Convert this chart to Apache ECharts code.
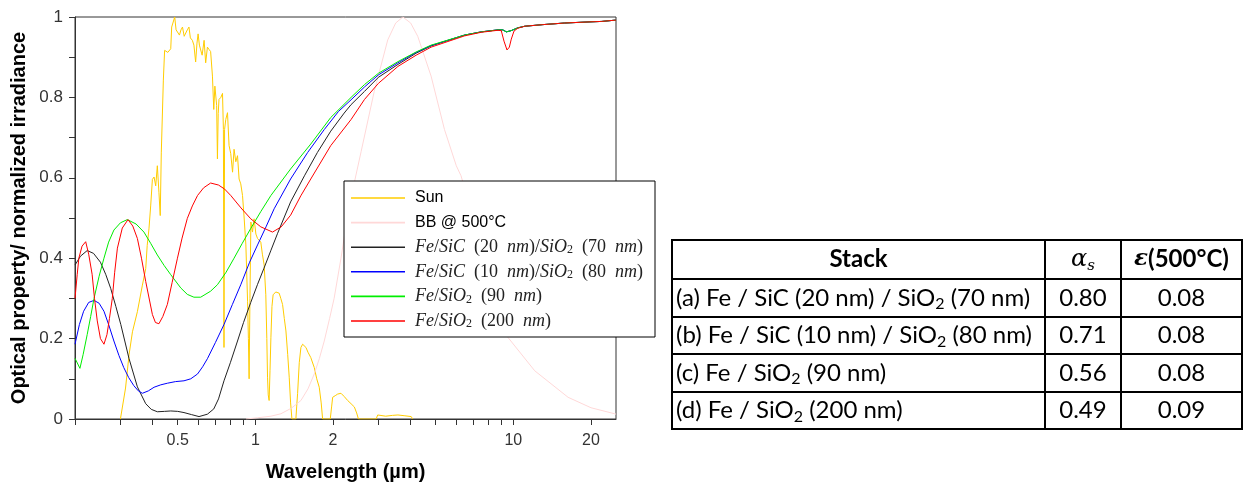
<!DOCTYPE html>
<html><head><meta charset="utf-8">
<script src="https://cdn.jsdelivr.net/npm/echarts@6/dist/echarts.min.js"></script>
<style>html,body{margin:0;padding:0;background:#fff}#c{width:1243px;height:487px}</style>
</head><body><div id="c"></div>
<script>
// ---------------- data ----------------
const seriesNames = ['Sun', 'BB @ 500°C', 'Fe/SiC (20 nm)/SiO₂ (70 nm)', 'Fe/SiC (10 nm)/SiO₂ (80 nm)', 'Fe/SiO₂ (90 nm)', 'Fe/SiO₂ (200 nm)'];

const sunData = [[0.300,0],[0.305,0.003],[0.314,0.077],[0.324,0.16],[0.334,0.217],[0.349,0.267],[0.365,0.333],[0.376,0.374],[0.381,0.432],[0.387,0.473],[0.393,0.53],[0.399,0.596],[0.405,0.602],[0.411,0.58],[0.417,0.63],[0.423,0.564],[0.428,0.506],[0.432,0.662],[0.440,0.843],[0.445,0.917],[0.458,0.912],[0.470,0.921],[0.474,0.975],[0.487,1.0],[0.493,0.968],[0.499,0.967],[0.508,0.955],[0.515,0.968],[0.522,0.975],[0.530,0.952],[0.537,0.954],[0.545,0.968],[0.553,0.975],[0.560,0.948],[0.570,0.942],[0.578,0.93],[0.587,0.888],[0.594,0.935],[0.600,0.958],[0.607,0.93],[0.614,0.933],[0.622,0.905],[0.633,0.942],[0.642,0.886],[0.652,0.925],[0.662,0.919],[0.671,0.914],[0.682,0.853],[0.690,0.77],[0.697,0.828],[0.703,0.828],[0.708,0.78],[0.713,0.647],[0.718,0.76],[0.723,0.795],[0.735,0.80],[0.746,0.81],[0.752,0.72],[0.756,0.178],[0.760,0.72],[0.768,0.745],[0.780,0.762],[0.791,0.68],[0.803,0.66],[0.816,0.614],[0.827,0.671],[0.840,0.64],[0.853,0.655],[0.865,0.597],[0.878,0.585],[0.892,0.556],[0.905,0.50],[0.919,0.433],[0.933,0.293],[0.940,0.20],[0.946,0.10],[0.953,0.30],[0.961,0.49],[0.975,0.465],[0.989,0.498],[1.005,0.46],[1.020,0.449],[1.035,0.452],[1.050,0.44],[1.065,0.41],[1.082,0.383],[1.098,0.309],[1.108,0.20],[1.115,0.104],[1.122,0.06],[1.131,0.046],[1.140,0.12],[1.149,0.202],[1.160,0.28],[1.172,0.309],[1.200,0.316],[1.237,0.313],[1.255,0.30],[1.275,0.285],[1.295,0.25],[1.314,0.219],[1.335,0.16],[1.353,0.104],[1.370,0.04],[1.386,0],[1.436,0],[1.446,0.03],[1.458,0.063],[1.480,0.14],[1.502,0.178],[1.525,0.186],[1.545,0.183],[1.571,0.178],[1.600,0.166],[1.640,0.153],[1.692,0.128],[1.730,0.10],[1.769,0.079],[1.800,0.04],[1.823,0],[1.952,0],[1.975,0.03],[1.994,0.054],[2.040,0.058],[2.085,0.062],[2.148,0.064],[2.210,0.056],[2.280,0.046],[2.350,0.038],[2.420,0.03],[2.470,0.015],[2.510,0],[2.940,0],[2.980,0.01],[3.200,0.007],[3.400,0.009],[3.570,0.01],[3.800,0.008],[4.020,0.006],[4.070,0]];

const bbData = [[0.92,0],[1.02,0.003],[1.15,0.007],[1.256,0.013],[1.38,0.027],[1.502,0.046],[1.60,0.075],[1.692,0.112],[1.77,0.15],[1.85,0.194],[1.94,0.25],[2.02,0.30],[2.148,0.40],[2.246,0.48],[2.385,0.57],[2.57,0.665],[2.89,0.815],[3.26,0.943],[3.50,0.985],[3.73,1.0],[4.0,0.985],[4.26,0.952],[4.8,0.853],[5.41,0.72],[6.01,0.63],[6.27,0.605],[9.53,0.203],[12.1,0.12],[16.3,0.054],[20,0.028],[24.7,0.013],[25,0.012]];

const stackA = [[0.2,0.383],[0.21,0.405],[0.223,0.419],[0.236,0.412],[0.251,0.39],[0.263,0.36],[0.275,0.325],[0.288,0.28],[0.301,0.235],[0.324,0.15],[0.349,0.08],[0.376,0.038],[0.395,0.024],[0.417,0.018],[0.445,0.019],[0.47,0.02],[0.50,0.019],[0.529,0.016],[0.565,0.011],[0.605,0.006],[0.652,0.012],[0.69,0.025],[0.72,0.05],[0.756,0.095],[0.80,0.14],[0.853,0.194],[0.90,0.24],[0.96,0.29],[1.02,0.335],[1.08,0.375],[1.15,0.42],[1.22,0.462],[1.37,0.54],[1.55,0.605],[1.74,0.663],[1.96,0.716],[2.21,0.761],[2.35,0.782],[2.65,0.815],[3.0,0.85],[3.57,0.882],[4.2,0.91],[4.8,0.928],[6.47,0.955],[7.51,0.963],[8.72,0.968],[9.1,0.968],[9.4,0.963],[9.8,0.966],[10.4,0.973],[11.07,0.977],[13,0.981],[15.8,0.985],[20,0.988],[22,0.989],[24.7,0.992],[25,0.992]];

const stackB = [[0.2,0.186],[0.208,0.235],[0.216,0.268],[0.226,0.29],[0.237,0.295],[0.248,0.288],[0.259,0.268],[0.27,0.235],[0.283,0.194],[0.296,0.158],[0.309,0.128],[0.323,0.103],[0.338,0.083],[0.352,0.07],[0.365,0.064],[0.385,0.07],[0.405,0.079],[0.43,0.085],[0.456,0.089],[0.49,0.093],[0.529,0.095],[0.562,0.10],[0.597,0.112],[0.625,0.13],[0.652,0.15],[0.70,0.19],[0.756,0.235],[0.815,0.285],[0.878,0.334],[0.95,0.39],[1.02,0.433],[1.10,0.478],[1.183,0.523],[1.37,0.597],[1.595,0.663],[1.85,0.72],[2.1,0.765],[2.35,0.794],[2.65,0.826],[3.0,0.856],[3.57,0.886],[4.2,0.912],[4.8,0.929],[6.47,0.955],[7.51,0.963],[8.72,0.968],[9.1,0.968],[9.4,0.963],[9.8,0.966],[10.4,0.973],[11.07,0.977],[13,0.981],[15.8,0.985],[20,0.988],[22,0.989],[24.7,0.992],[25,0.992]];

const stackC = [[0.2,0.151],[0.209,0.126],[0.215,0.16],[0.223,0.21],[0.23,0.255],[0.237,0.30],[0.248,0.355],[0.259,0.40],[0.27,0.44],[0.283,0.47],[0.30,0.488],[0.319,0.496],[0.345,0.485],[0.37,0.465],[0.393,0.437],[0.417,0.408],[0.443,0.382],[0.47,0.359],[0.514,0.326],[0.545,0.31],[0.578,0.303],[0.614,0.303],[0.671,0.318],[0.713,0.334],[0.77,0.365],[0.827,0.40],[0.89,0.437],[0.96,0.474],[1.05,0.516],[1.149,0.556],[1.37,0.622],[1.64,0.684],[1.96,0.75],[2.35,0.80],[2.65,0.832],[3.0,0.86],[3.57,0.889],[4.2,0.913],[4.8,0.93],[6.47,0.955],[7.51,0.963],[8.72,0.968],[9.1,0.968],[9.4,0.963],[9.8,0.966],[10.4,0.973],[11.07,0.977],[13,0.981],[15.8,0.985],[20,0.988],[22,0.989],[24.7,0.992],[25,0.992]];

const stackD = [[0.2,0.30],[0.204,0.36],[0.207,0.40],[0.213,0.43],[0.22,0.441],[0.226,0.41],[0.233,0.36],[0.238,0.30],[0.244,0.244],[0.251,0.20],[0.259,0.186],[0.266,0.21],[0.272,0.25],[0.279,0.30],[0.285,0.365],[0.292,0.425],[0.305,0.475],[0.321,0.496],[0.335,0.48],[0.349,0.449],[0.362,0.40],[0.376,0.342],[0.399,0.26],[0.41,0.24],[0.423,0.237],[0.438,0.255],[0.456,0.285],[0.476,0.34],[0.499,0.40],[0.52,0.45],[0.545,0.499],[0.57,0.53],[0.597,0.556],[0.63,0.575],[0.671,0.587],[0.72,0.582],[0.76,0.572],[0.803,0.556],[0.88,0.525],[0.96,0.498],[1.05,0.478],[1.166,0.465],[1.26,0.478],[1.37,0.507],[1.5,0.555],[1.64,0.597],[1.96,0.68],[2.35,0.745],[2.65,0.795],[3.0,0.835],[3.57,0.877],[4.2,0.905],[4.8,0.925],[6.47,0.953],[7.51,0.962],[8.72,0.967],[8.98,0.966],[9.2,0.94],[9.45,0.918],[9.65,0.925],[9.82,0.945],[10.06,0.965],[10.4,0.972],[11.07,0.977],[13,0.981],[15.8,0.985],[20,0.988],[22,0.989],[24.7,0.992],[25,0.992]];

const xTickValues = [0.2,0.3,0.4,0.5,0.6,0.7,0.8,0.9,1,2,3,4,5,6,7,8,9,10,20];
const xLabelValues = [0.5,1,2,10,20];

const tableHeader = ['Stack', 'αs', 'ε(500°C)'];
const tableStacks = ['(a) Fe / SiC (20 nm) / SiO₂ (70 nm)', '(b) Fe / SiC (10 nm) / SiO₂ (80 nm)', '(c) Fe / SiO₂ (90 nm)', '(d) Fe / SiO₂ (200 nm)'];
const tableAlpha = ['0.80', '0.71', '0.56', '0.49'];
const tableEps = ['0.08', '0.08', '0.08', '0.09'];

// ---------------- styling / layout ----------------
const colors = ['#ffcc00', '#ffd8d8', '#222222', '#0000ff', '#00ee00', '#ff0000'];
const seriesData = [sunData, bbData, stackA, stackB, stackC, stackD];

function mathLabel(name) {
  let out = '';
  const re = /(SiO)₂|([A-Za-z]+)|([^A-Za-z]+)/g;
  let m;
  while ((m = re.exec(name))) {
    if (m[1]) out += '{i|' + m[1] + '}{s|2}';
    else if (m[2]) out += '{i|' + m[2] + '}';
    else out += '{n|' + m[3].replace(/ /g, '  ') + '}';
  }
  return out;
}

const cols = [672, 1045, 1121, 1242];
const rows = [240, 279, 317, 354, 392, 429];
const graphics = [];
rows.forEach(y => graphics.push({type: 'line', z: 10, shape: {x1: cols[0] - 1, y1: y, x2: cols[3] + 1, y2: y}, style: {stroke: '#000', lineWidth: 2}}));
cols.forEach(x => graphics.push({type: 'line', z: 10, shape: {x1: x, y1: rows[0] - 1, x2: x, y2: rows[rows.length - 1] + 1}, style: {stroke: '#000', lineWidth: 2}}));

const FS = 24;
const tableRich = {
  s: {fontFamily: 'Lato', fontSize: 16, lineHeight: 17, verticalAlign: 'bottom', fill: '#000'},
  b: {fontFamily: 'Lato', fontSize: FS, fontWeight: 'bold', lineHeight: 28, fill: '#000'},
  ga: {fontFamily: 'DejaVu Serif', fontStyle: 'italic', fontSize: 24, lineHeight: 28, fill: '#000'},
  gs: {fontFamily: 'DejaVu Serif', fontStyle: 'italic', fontSize: 15, lineHeight: 17, verticalAlign: 'bottom', fill: '#000'},
  ge: {fontFamily: 'DejaVu Serif', fontStyle: 'italic', fontWeight: 'bold', fontSize: 23, lineHeight: 28, fill: '#000'}
};
function cell(text, x, y, align) {
  return {type: 'text', z: 10, x: x, y: y, style: {text: text, align: align, verticalAlign: 'middle', textAlign: align, textVerticalAlign: 'middle', fontFamily: 'Lato', fontSize: FS, lineHeight: 28, fill: '#000', rich: tableRich}};
}
const colCenter = i => (cols[i] + cols[i + 1]) / 2;
const rowCenter = i => (rows[i] + rows[i + 1]) / 2;
graphics.push(cell('{b|' + tableHeader[0] + '}', colCenter(0), rowCenter(0), 'center'));
graphics.push(cell('{ga|' + tableHeader[1].charAt(0) + '}{gs|' + tableHeader[1].slice(1) + '}', colCenter(1), rowCenter(0), 'center'));
graphics.push(cell('{ge|' + tableHeader[2].charAt(0) + '}{b|' + tableHeader[2].slice(1) + '}', colCenter(2), rowCenter(0), 'center'));
tableStacks.forEach((s, i) => {
  graphics.push(cell(s.replace(/₂/g, '{s|2}'), cols[0] + 4, rowCenter(i + 1), 'left'));
  graphics.push(cell(tableAlpha[i], colCenter(1), rowCenter(i + 1), 'center'));
  graphics.push(cell(tableEps[i], colCenter(2), rowCenter(i + 1), 'center'));
});

const chart = echarts.init(document.getElementById('c'), null, {renderer: 'canvas'});
chart.setOption({
  animation: false,
  backgroundColor: '#fff',
  grid: {left: 75, top: 17, width: 541, height: 405, show: true, borderColor: '#333', borderWidth: 1, containLabel: false},
  xAxis: {
    type: 'log', logBase: 10, min: 0.2, max: 25,
    name: 'Wavelength (µm)', nameLocation: 'middle', nameGap: 43,
    nameTextStyle: {fontFamily: 'Liberation Sans', fontSize: 20, fontWeight: 'bold', color: '#000'},
    axisLine: {lineStyle: {color: '#333'}},
    axisTick: {customValues: xTickValues, length: 6, lineStyle: {color: '#333'}},
    axisLabel: {customValues: xLabelValues, fontFamily: 'Liberation Sans', fontSize: 16, color: '#333', margin: 14},
    splitLine: {show: false}, minorTick: {show: false}, minorSplitLine: {show: false}
  },
  yAxis: {
    type: 'value', min: 0, max: 1, interval: 0.1,
    name: 'Optical property/ normalized irradiance', nameLocation: 'middle', nameGap: 46, nameRotate: 90,
    nameTextStyle: {fontFamily: 'Liberation Sans', fontSize: 20, fontWeight: 'bold', color: '#000'},
    axisLine: {show: true, lineStyle: {color: '#333'}},
    axisTick: {show: true, length: 6, lineStyle: {color: '#333'}},
    axisLabel: {fontFamily: 'Liberation Sans', fontSize: 17, color: '#333', margin: 12,
      formatter: v => (Math.round(v * 10) % 2 === 0 ? String(+v.toFixed(1)) : '')},
    splitLine: {show: false}
  },
  legend: {
    orient: 'vertical', left: 344, top: 181,
    itemWidth: 54, itemHeight: 14, itemGap: 6.6,
    padding: [8, 10, 7, 7],
    backgroundColor: '#fff', borderColor: '#000', borderWidth: 1,
    data: seriesNames,
    icon: 'path://M0,0 L54,0 L54,1.6 L0,1.6 Z',
    formatter: name => (name.indexOf('Fe') === 0 ? mathLabel(name) : '{t|' + name + '}'),
    textStyle: {
      width: 230, color: '#000', fontSize: 16, lineHeight: 18, padding: [0, 0, 0, 5],
      rich: {
        t: {fontFamily: 'Liberation Sans', fontSize: 16, lineHeight: 18, color: '#000'},
        i: {fontFamily: 'Liberation Serif', fontStyle: 'italic', fontSize: 18, lineHeight: 18, color: '#222'},
        n: {fontFamily: 'Liberation Serif', fontSize: 18, lineHeight: 18, color: '#222'},
        s: {fontFamily: 'Liberation Serif', fontSize: 12, lineHeight: 12, verticalAlign: 'bottom', color: '#222'}
      }
    }
  },
  graphic: graphics,
  series: seriesNames.map((n, i) => ({
    name: n, type: 'line', data: seriesData[i], symbol: 'none', showSymbol: false,
    color: colors[i], lineStyle: {width: 1, color: colors[i]}, z: 2 + i, silent: true
  }))
});
</script>
</body></html>
